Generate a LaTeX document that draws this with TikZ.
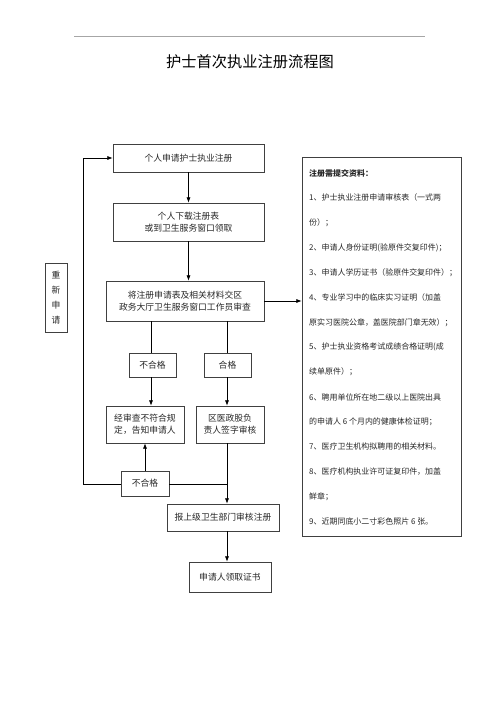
\documentclass[tikz,border=0pt]{standalone}
\usepackage{fontspec}
\setmainfont{Noto Sans CJK SC}
\usepackage{tikz}
\usetikzlibrary{arrows.meta, positioning, calc}

\tikzset{
  flowbox/.style={rectangle, draw=black!75, line width=0.6pt, inner sep=0pt,
                  align=center, text=black!85,
                  font=\fontsize{7.5}{10.5}\selectfont},
  arr/.style={-{Latex[length=4.5pt,width=3.5pt]}, line width=0.6pt},
  plain/.style={line width=0.6pt},
  listline/.style={anchor=west, inner sep=0pt, text=black!85,
                   font=\fontsize{6.8}{8}\selectfont}
}

\begin{document}
\begin{tikzpicture}[x=0.03cm, y=-0.03cm]
          \useasboundingbox (0,0) rectangle (500,707);
          \draw[gray!70, line width=0.6pt] (74,36) -- (425,36);
          \node[font=\fontsize{13}{15}\selectfont] (title) at (250,62) {护士首次执业注册流程图};

          % main column
          \node[flowbox, minimum width=4.53cm, minimum height=0.84cm] (apply) at (188.5,158) {个人申请护士执业注册};
          \node[flowbox, minimum width=4.53cm, minimum height=1.14cm] (form) at (188.5,222) {个人下载注册表\\或到卫生服务窗口领取};
          \node[flowbox, minimum width=4.74cm, minimum height=1.2cm] (submit) at (185,301) {将注册申请表及相关材料交区\\政务大厅卫生服务窗口工作员审查};
          \node[flowbox, minimum width=1.41cm, minimum height=0.72cm] (failA) at (152.5,365) {不合格};
          \node[flowbox, minimum width=1.41cm, minimum height=0.72cm] (pass) at (227.5,365) {合格};
          \node[flowbox, minimum width=2.34cm, minimum height=1.11cm] (notice) at (145,424.5) {经审查不符合规\\定，告知申请人};
          \node[flowbox, minimum width=2.04cm, minimum height=1.11cm] (sign) at (230,424.5) {区医政股负\\责人签字审核};
          \node[flowbox, minimum width=1.44cm, minimum height=0.75cm] (failB) at (145,483.5) {不合格};
          \node[flowbox, minimum width=3.36cm, minimum height=0.81cm] (report) at (223,517.5) {报上级卫生部门审核注册};
          \node[flowbox, minimum width=2.46cm, minimum height=0.9cm] (cert) at (230,577) {申请人领取证书};

          % side boxes
          \node[flowbox, minimum width=0.66cm, minimum height=2.07cm,
                font=\fontsize{7.5}{12.8}\selectfont] (again) at (56,297.5) {重\\新\\申\\请};
          \node[flowbox, minimum width=4.77cm, minimum height=11.37cm] (docs) at (381.5,346.5) {};
          \node[listline, font=\fontsize{6.8}{8}\selectfont\bfseries] (d0) at (309,173) {注册需提交资料：};
          \foreach \i/\t in {1/1、护士执业注册申请审核表（一式两,
                             2/份）；,
                             3/2、申请人身份证明(验原件交复印件)；,
                             4/3、申请人学历证书（验原件交复印件）；,
                             5/4、专业学习中的临床实习证明（加盖,
                             6/原实习医院公章，盖医院部门章无效）；,
                             7/5、护士执业资格考试成绩合格证明(成,
                             8/续单原件）；,
                             9/6、聘用单位所在地二级以上医院出具,
                             10/的申请人 6 个月内的健康体检证明；,
                             11/7、医疗卫生机构拟聘用的相关材料。,
                             12/8、医疗机构执业许可证复印件，加盖,
                             13/鲜章；,
                             14/9、近期同底小二寸彩色照片 6 张。}
            \node[listline] (d\i) at (309,{173+24.9*\i}) {\t};

          % connectors
          \draw[arr] (apply) -- (form);
          \draw[arr] (form.south) -- (form.south |- submit.north);
          \draw[arr] (submit.east) -- (submit.east -| docs.west);
          \draw[plain] (submit.south -| 151,0) -- (failA.north -| 151,0);
          \draw[plain] (submit.south -| 227,0) -- (pass.north -| 227,0);
          \draw[arr] (failA.south -| 151,0) -- (notice.north -| 151,0);
          \draw[arr] (pass.south -| 227,0) -- (sign.north -| 227,0);
          \draw[arr] (failB) -- (notice);
          \coordinate (join) at (227,484);
          \coordinate (loop) at (83,484);
          \draw[plain] (failB.east |- join) -- (join);
          \draw[arr] (sign.south -| join) -- (join |- report.north);
          \draw[arr] (report.south -| join) -- (join |- cert.north);
          \draw[arr] (failB.west |- loop) -- (loop) |- (apply.west);
\end{tikzpicture}
\end{document}
